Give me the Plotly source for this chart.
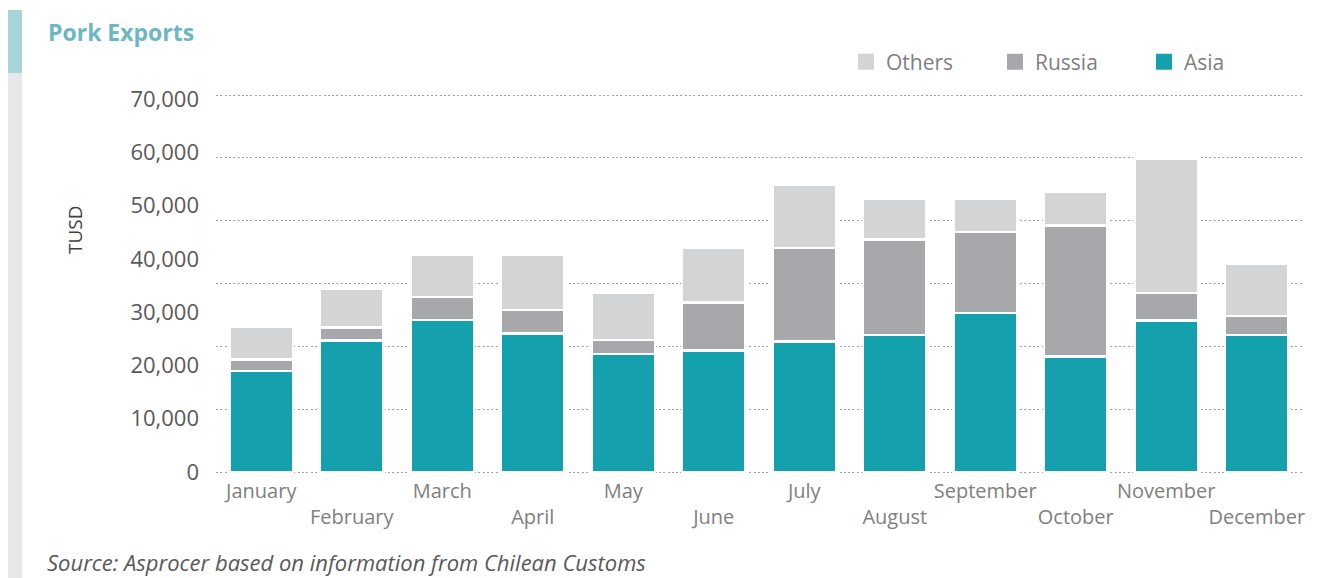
import plotly.graph_objects as go

# ---- data (TUSD) ----
months = ["January", "February", "March", "April", "May", "June",
          "July", "August", "September", "October", "November", "December"]
asia = [19000, 24700, 28500, 26000, 22100, 22800, 24500, 25700, 29800, 21700, 28400, 25700]
russia = [2100, 2400, 4300, 4400, 2700, 9000, 17500, 17900, 15200, 24600, 5200, 3600]
others = [6100, 7200, 7900, 10300, 8800, 10300, 11900, 7700, 6200, 6200, 25200, 9800]

y_tick_vals = [0, 10000, 20000, 30000, 40000, 50000, 60000, 70000]
y_tick_text = ["0", "10,000", "20,000", "30,000", "40,000", "50,000", "60,000", "70,000"]

series = [("Asia", asia, "#14a1ad"), ("Russia", russia, "#a7a8ab"), ("Others", others, "#d3d4d5")]

# staggered month labels
x_tick_text = [m if i % 2 == 0 else " <br>" + m for i, m in enumerate(months)]

W, H = 1321, 578
ML, MR, MT, MB = 216, 19, 92, 103
PW, PH = W - ML - MR, H - MT - MB
BASE = 472          # pixel row of the zero line
LABEL_PX = 53.29    # pixels per 10,000 on the labelled scale
GRID_PX = 62.83     # pixels between dotted gridlines


def px_x(p):
    return (p - ML) / PW


def px_y(p):
    return (MT + PH - p) / PH


y_bottom_px = MT + PH
y_range = [-(y_bottom_px - BASE) / LABEL_PX * 10000, (BASE - MT) / LABEL_PX * 10000]
grid_range = [-(y_bottom_px - BASE) / GRID_PX, (BASE - MT) / GRID_PX]

fig = go.Figure()
for name, vals, col in series:
    fig.add_trace(go.Bar(
        x=months, y=vals, name=name, legendgroup=name, showlegend=False,
        marker=dict(color=col, line=dict(color="white", width=2.5)),
    ))
# legend swatches (bigger squares than the default bar symbol)
for name, vals, col in reversed(series):
    fig.add_trace(go.Scatter(
        x=[None], y=[None], name=name, legendgroup=name, mode="markers",
        marker=dict(symbol="square", size=22, color=col), hoverinfo="skip",
    ))
# helper trace carrying the grid axis
fig.add_trace(go.Scatter(x=[months[0]], y=[None], yaxis="y2", showlegend=False,
                         hoverinfo="skip", mode="markers"))

font_main = "Open Sans"

fig.update_layout(
    width=W, height=H,
    margin=dict(l=ML, r=MR, t=MT, b=MB, autoexpand=False),
    paper_bgcolor="white", plot_bgcolor="white",
    barmode="stack", bargap=0.3,
    font=dict(family=font_main, color="#595959"),
    xaxis=dict(
        type="category", tickmode="array", tickvals=months, ticktext=x_tick_text,
        range=[-0.5, len(months) - 0.5],
        tickfont=dict(size=20, color="#808080"), showgrid=False, zeroline=False,
        showline=False, ticks="", ticklabelstandoff=2, tickangle=0, automargin=False,
    ),
    yaxis=dict(
        range=y_range, tickmode="array", tickvals=y_tick_vals, ticktext=y_tick_text,
        tickfont=dict(size=22, color="#595959"), showgrid=False, zeroline=False,
        showline=False, ticks="", ticklabelstandoff=16, automargin=False,
    ),
    yaxis2=dict(
        overlaying="y", side="right", range=grid_range, dtick=1, tick0=0,
        showticklabels=False, showgrid=True, gridcolor="#a3a3a3", gridwidth=1,
        griddash="2px,2.3px", zeroline=False, showline=False, ticks="", automargin=False,
    ),
    legend=dict(
        orientation="h", x=px_x(846), xanchor="left", y=px_y(62), yanchor="middle",
        font=dict(size=21, color="#7f7f7f"), entrywidth=104, entrywidthmode="pixels",
        bgcolor="rgba(0,0,0,0)", itemclick=False, itemdoubleclick=False,
    ),
    shapes=[
        dict(type="rect", xref="paper", yref="paper", x0=px_x(8), x1=px_x(22),
             y0=px_y(578), y1=px_y(73), fillcolor="#e6e7e8", line=dict(width=0), layer="below"),
        dict(type="rect", xref="paper", yref="paper", x0=px_x(8), x1=px_x(22),
             y0=px_y(73), y1=px_y(10), fillcolor="#a6d4d9", line=dict(width=0), layer="below"),
    ],
    annotations=[
        dict(text="<b>Pork Exports</b>", xref="paper", yref="paper", x=px_x(46), y=px_y(32),
             xanchor="left", yanchor="middle", showarrow=False,
             font=dict(size=23, color="#6cb7c1", family=font_main)),
        dict(text="TUSD", xref="paper", yref="paper", x=px_x(75), y=px_y(230),
             xanchor="center", yanchor="middle", textangle=-90, showarrow=False,
             font=dict(size=19, color="#404040", family=font_main)),
        dict(text="<i>Source: Asprocer based on information from Chilean Customs</i>",
             xref="paper", yref="paper", x=px_x(46), y=px_y(562), xanchor="left",
             yanchor="middle", showarrow=False, borderpad=0,
             font=dict(size=22, color="#595959", family=font_main)),
    ],
)

fig.write_html("out.html", config={"displayModeBar": False},
               post_script="document.body.style.margin='0';")
